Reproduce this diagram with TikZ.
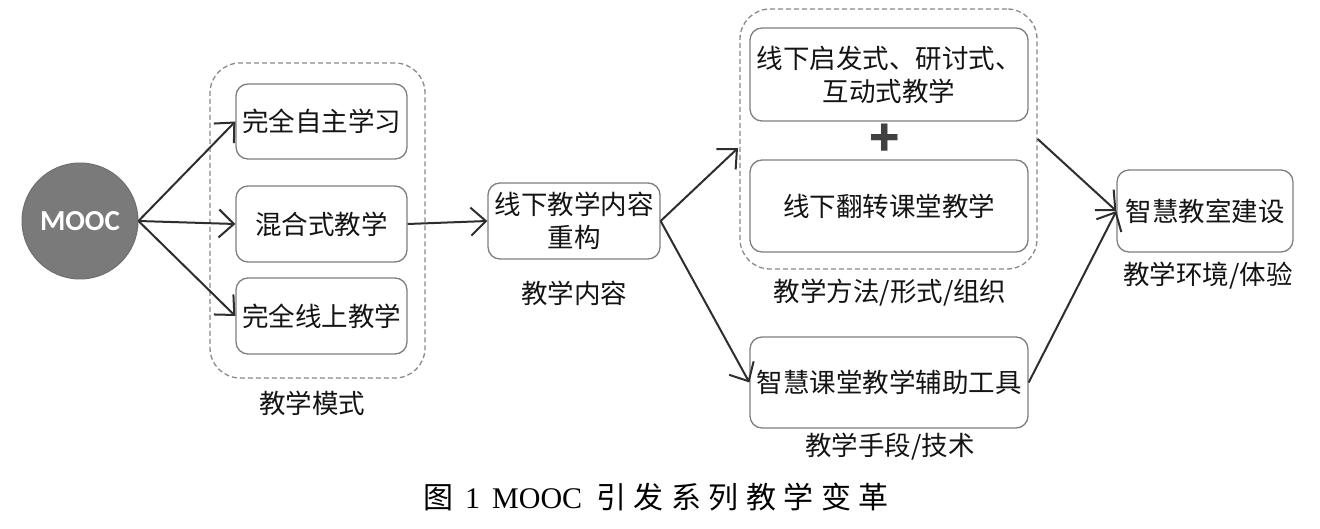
\documentclass[tikz,border=0pt]{standalone}
\usepackage{fontspec}
\setmainfont{Noto Sans CJK SC}
\newfontfamily\timesfont{Liberation Serif}
\newfontfamily\moocfont{Carlito}
\usetikzlibrary{arrows.meta}
\definecolor{boxgray}{HTML}{7F7F7F}
\definecolor{dashgray}{HTML}{8A8A8A}
\definecolor{arrgray}{HTML}{2E2E2E}
\definecolor{circfill}{HTML}{7A7A7A}
\definecolor{txt}{HTML}{141414}
\newcommand{\capsp}{\hspace{7.5pt}}
\begin{document}
\begin{tikzpicture}[x=1pt,y=-1pt,
  box/.style={draw=boxgray, line width=1.3pt, rounded corners=12pt, inner sep=0pt, text=txt,
    font=\fontsize{26.5}{33}\selectfont, align=center},
  grp/.style={draw=dashgray, dashed, dash pattern=on 5pt off 3pt, line width=1.3pt, rounded corners=30pt, inner sep=0pt},
  lbl/.style={font=\fontsize{26.5}{32}\selectfont, inner sep=0pt, text=txt},
  arr/.style={draw=arrgray, line width=2pt, -{Straight Barb[length=15pt,width=28pt,line width=2pt]}}]
\useasboundingbox (0,0) rectangle (1320,529);
\fill[white] (0,0) rectangle (1320,529);

% MOOC
\node[circle, fill=circfill, draw=circfill!90!black, line width=1pt, minimum size=116pt, inner sep=0pt,
  text=white, font=\moocfont\bfseries\fontsize{29}{30}\selectfont] (mooc) at (80,221) {MOOC};

% group 1
\node[grp, minimum width=215pt, minimum height=315pt] (g1) at (317.5,220.5) {};
\node[box, minimum width=171pt, minimum height=75pt] (b1) at (321.5,121.5) {完全自主学习};
\node[box, minimum width=171pt, minimum height=76pt] (b2) at (321.5,224) {混合式教学};
\node[box, minimum width=171pt, minimum height=76pt] (b3) at (321.5,316) {完全线上教学};
\node[lbl] (l1) at (312,403) {教学模式};

% content
\node[box, minimum width=172pt, minimum height=76pt] (c) at (574,221) {线下教学内容\\重构};
\node[lbl] (l2) at (574,293) {教学内容};

% group 2
\node[grp, minimum width=297pt, minimum height=260pt] (g2) at (888.5,139) {};
\node[box, minimum width=278pt, minimum height=93pt] (u1) at (889,74.5) {线下启发式、研讨式、\\互动式教学};
\node[inner sep=0pt, text=black!75, font=\bfseries\fontsize{50}{50}\selectfont] (plus) at (885,140) {+};
\node[box, minimum width=278pt, minimum height=92pt] (u2) at (889,206) {线下翻转课堂教学};
\node[lbl] (l3) at (890,293) {教学方法/形式/组织};

% tools
\node[box, minimum width=278pt, minimum height=91pt] (t1) at (889,382.5) {智慧课堂教学辅助工具};
\node[lbl] (l4) at (890,447) {教学手段/技术};

% environment
\node[box, minimum width=176pt, minimum height=82pt] (e) at (1205,211) {智慧教室建设};
\node[lbl] (l5) at (1208,276) {教学环境/体验};

% caption
\node[inner sep=0pt, text=black, font=\fontsize{30}{32}\selectfont] (cap) at (656,497)
  {图\hspace{12pt}{\timesfont 1\hspace{12pt}MOOC}\hspace{14pt}引\capsp 发\capsp 系\capsp 列\capsp 教\capsp 学\capsp 变\capsp 革};

% arrows
\coordinate (g2in) at (738,148);
\draw[arr] (mooc.east) -- (b1.west);
\draw[arr] (mooc.east) -- (b2.west);
\draw[arr] (mooc.east) -- (b3.west);
\draw[arr] (b2.east) -- (c.west);
\draw[arr] (c.east) -- (g2in);
\draw[arr] (c.east) -- (t1.west);
\draw[arr] (g2.east) -- (e.west);
\draw[arr] (t1.east) -- (e.west);
\end{tikzpicture}
\end{document}
